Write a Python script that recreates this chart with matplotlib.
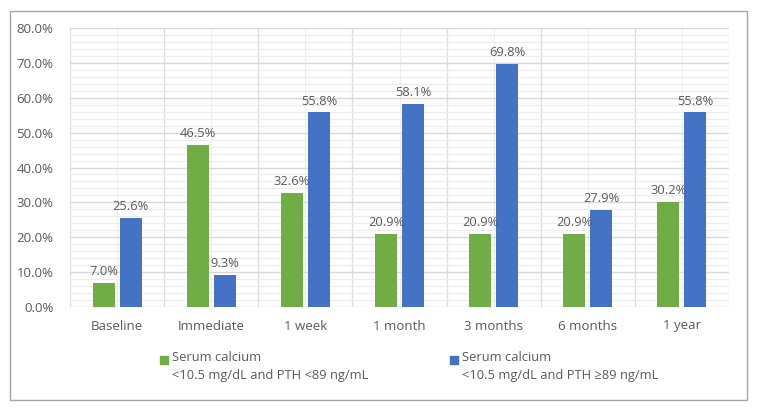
import matplotlib.pyplot as plt
import numpy as np
from matplotlib.patches import Rectangle
from matplotlib.ticker import MultipleLocator, FuncFormatter

categories = ['Baseline', 'Immediate', '1 week', '1 month', '3 months', '6 months', '1 year']
green_vals = [7.0, 46.5, 32.6, 20.9, 20.9, 20.9, 30.2]
blue_vals = [25.6, 9.3, 55.8, 58.1, 69.8, 27.9, 55.8]
labels = ['Serum calcium\n<10.5 mg/dL and PTH <89 ng/mL',
          'Serum calcium\n<10.5 mg/dL and PTH \u226589 ng/mL']

GREEN = '#70AD47'
BLUE = '#4472C4'
TXT = '#595959'

plt.rcParams['font.family'] = ['Open Sans', 'DejaVu Sans']

fig = plt.figure(figsize=(7.58, 4.11), dpi=100)
ax = fig.add_axes([70 / 758, 1 - 307 / 411, 659 / 758, 279 / 411])

x = np.arange(len(categories))
w = 0.234
off = 0.144
b1 = ax.bar(x - off, green_vals, w, color=GREEN, zorder=3)
b2 = ax.bar(x + off, blue_vals, w, color=BLUE, zorder=3)
for bars in (b1, b2):
    for r in bars:
        ax.text(r.get_x() + r.get_width() / 2, r.get_height() + 1.4,
                '%.1f%%' % r.get_height(), ha='center', va='bottom',
                fontsize=9.3, color=TXT, zorder=4)

ax.set_xlim(-0.5, len(categories) - 0.5)
ax.set_ylim(0, 80)
ax.yaxis.set_major_locator(MultipleLocator(10))
ax.yaxis.set_minor_locator(MultipleLocator(2))
ax.yaxis.set_major_formatter(FuncFormatter(lambda v, p: '%.1f%%' % v))
ax.set_xticks(x)
ax.set_xticklabels(categories)

ax.grid(axis='y', which='major', color='#D9D9D9', lw=1, zorder=0)
ax.grid(axis='y', which='minor', color='#ECECEC', lw=0.8, zorder=0)
for xv in np.arange(-0.5, len(categories), 1.0):
    ax.axvline(xv, color='#DDDDDD', lw=0.9, zorder=0)
for xv in x:
    ax.axvline(xv, color='#EEEEEE', lw=0.8, zorder=0)

for s in ax.spines.values():
    s.set_visible(False)
ax.tick_params(which='both', length=0)
ax.tick_params(axis='y', labelsize=9.5, colors=TXT, pad=12)
ax.tick_params(axis='x', labelsize=9.5, colors=TXT, pad=9)

# outer border
fig.add_artist(Rectangle((10 / 758, 11 / 411), 737 / 758, 389 / 411,
                         transform=fig.transFigure, fill=False,
                         edgecolor='#A6A6A6', lw=1))

# legend
for lx, col, lab in [(160, GREEN, labels[0]), (450, BLUE, labels[1])]:
    fig.add_artist(Rectangle((lx / 758, 1 - 364 / 411), 8 / 758, 8 / 411,
                             transform=fig.transFigure, color=col))
    fig.text((lx + 12) / 758, 1 - 351 / 411, lab, ha='left', va='top',
             fontsize=9.3, color=TXT, linespacing=1.5)

fig.savefig('out.png', dpi=100)
